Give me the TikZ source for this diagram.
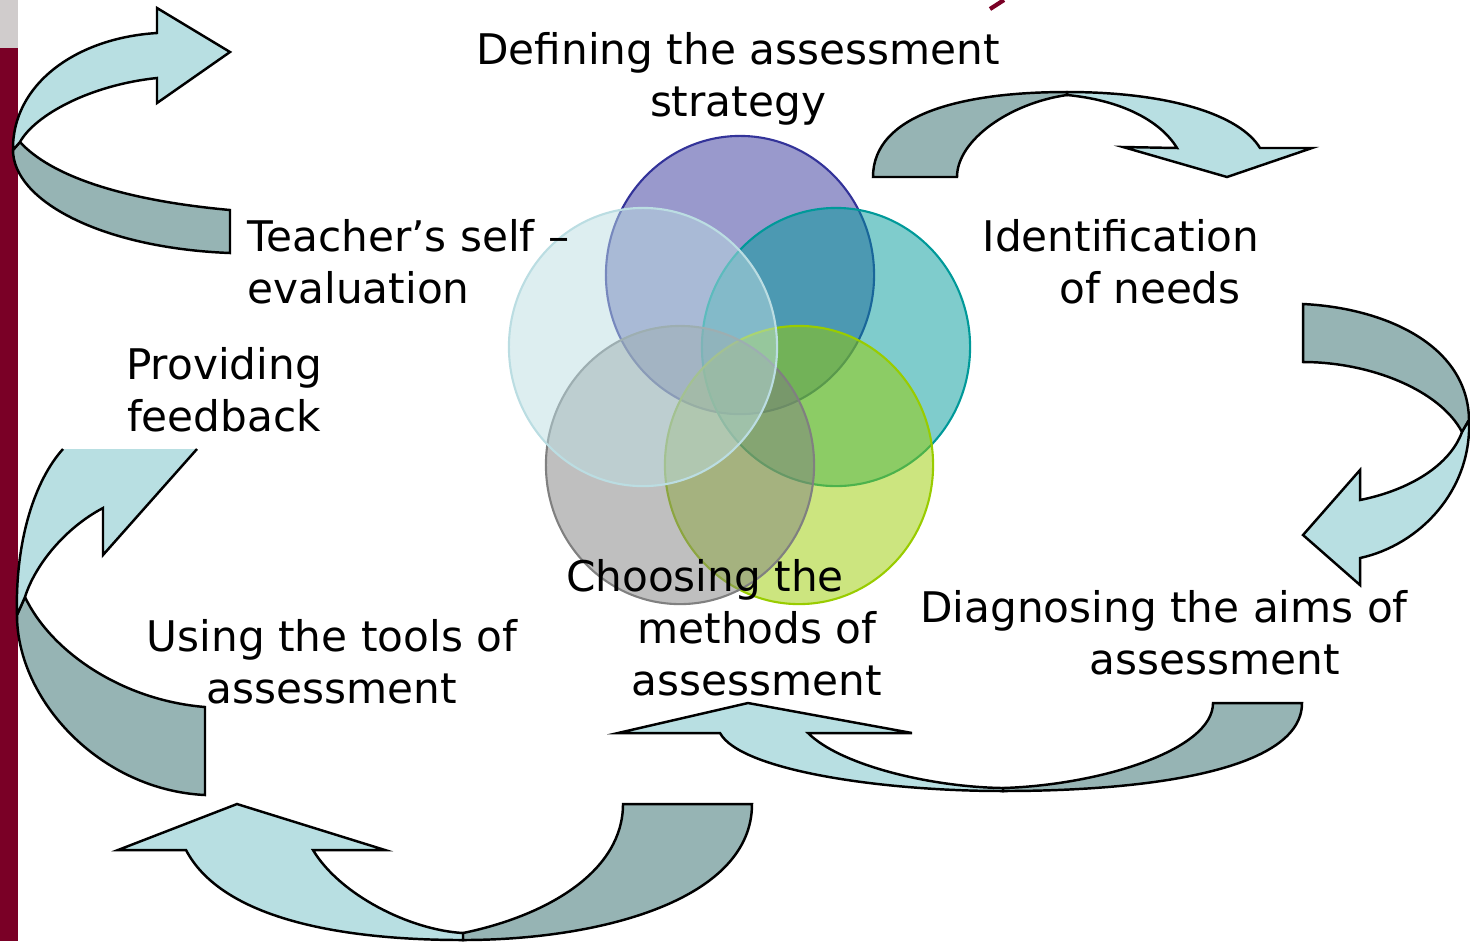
\documentclass[tikz,border=0pt]{standalone}
\usepackage{fontspec}
\setmainfont{DejaVu Sans}
\usetikzlibrary{shapes.geometric}

\definecolor{ribbonlight}{HTML}{B8DFE2}
\definecolor{ribbondark}{HTML}{96B4B4}
\definecolor{barred}{HTML}{7A0026}
\definecolor{bargray}{HTML}{D0CCCC}
\definecolor{circpurple}{HTML}{333399}
\definecolor{circteal}{HTML}{009999}
\definecolor{circgreen}{HTML}{99CC00}
\definecolor{circgray}{HTML}{808080}
\definecolor{circblue}{HTML}{BBDDE2}

\tikzset{
  front/.style={fill=ribbonlight, draw=black, line width=0.7pt},
  back/.style={fill=ribbondark, draw=black, line width=0.7pt},
  blob/.style={ellipse, minimum width=2.68cm, minimum height=2.78cm,
    inner sep=0pt, line width=0.6pt, fill opacity=0.5},
  steptext/.style={font=\fontsize{12}{14.8}\selectfont, inner sep=0pt,
    align=center, anchor=north}
}

\begin{document}
\begin{tikzpicture}[x=0.01cm, y=-0.01cm]
  \useasboundingbox (0,0) rectangle (1470,941);
  \fill[bargray] (0,0) rectangle (18,48);
  \fill[barred] (0,48) rectangle (18,941);
  \draw[barred, line width=1.2pt] (990,9) -- (1004,0);

  \begin{scope}[every node/.style=blob]
    \node[draw=circpurple, fill=circpurple] (purple) at (740,275) {};
    \node[draw=circteal, fill=circteal] (teal) at (836,347) {};
    \node[draw=circgreen, fill=circgreen] (green) at (799,465) {};
    \node[draw=circgray, fill=circgray] (gray) at (680,465) {};
    \node[draw=circblue, fill=circblue] (blue) at (643,347) {};
  \end{scope}

  % top left
  \path[back] (230,210) -- (230,253) .. controls (100,248) and (13,200) .. (13,150)
    -- (20,142) .. controls (50,175) and (120,200) .. (230,210) -- cycle;
  \path[front] (13,150) .. controls (12,85) and (75,38) .. (157,33) -- (157,8)
    -- (230,52) -- (157,103) -- (157,78) .. controls (90,85) and (35,115) .. (20,142) -- cycle;
  % top right
  \path[back] (873,177) -- (957,177) .. controls (957,140) and (1010,103) .. (1067,95)
    -- (1067,92) .. controls (960,92) and (873,115) .. (873,177) -- cycle;
  \path[front] (1067,92) .. controls (1170,92) and (1240,115) .. (1260,148) -- (1312,148)
    -- (1227,177) -- (1123,147) -- (1177,148) .. controls (1160,120) and (1120,100) .. (1067,95) -- cycle;
  % right
  \path[back] (1303,304) .. controls (1385,308) and (1468,345) .. (1469,420)
    -- (1462,432) .. controls (1440,390) and (1370,362) .. (1303,362) -- cycle;
  \path[front] (1469,420) .. controls (1472,490) and (1420,545) .. (1360,558) -- (1360,585)
    -- (1303,535) -- (1360,470) -- (1360,500) .. controls (1410,490) and (1450,465) .. (1462,432) -- cycle;
  % bottom right
  \path[back] (1213,703) -- (1302,703) .. controls (1302,770) and (1150,791) .. (1003,791)
    -- (1003,788) .. controls (1100,785) and (1213,750) .. (1213,703) -- cycle;
  \path[front] (1003,791) .. controls (880,791) and (740,770) .. (720,733) -- (618,733)
    -- (748,703) -- (912,733) -- (808,733) .. controls (840,765) and (930,787) .. (1003,788) -- cycle;
  % bottom left
  \path[back] (623,804) -- (752,804) .. controls (752,900) and (600,940) .. (463,940)
    -- (463,933) .. controls (550,915) and (623,870) .. (623,804) -- cycle;
  \path[front] (463,940) .. controls (330,940) and (220,915) .. (186,850) -- (118,850)
    -- (237,804) -- (385,850) -- (313,850) .. controls (340,895) and (410,930) .. (463,933) -- cycle;
  % left
  \path[back] (17,615) .. controls (17,700) and (100,790) .. (205,795) -- (205,707)
    .. controls (120,700) and (50,650) .. (25,597) -- cycle;
  \fill[ribbonlight] (63,449) -- (197,449) -- (103,555) -- (103,508)
    .. controls (65,528) and (35,565) .. (25,597) -- (17,615) .. controls (15,540) and (35,480) .. (63,449) -- cycle;
  \draw[line width=0.7pt] (197,449) -- (103,555) -- (103,508)
    .. controls (65,528) and (35,565) .. (25,597) -- (17,615) .. controls (15,540) and (35,480) .. (63,449);

  \node[steptext] (strategy) at (738,32) {Defining the assessment\\strategy};
  \node[steptext, align=left, anchor=north west] (selfeval) at (247,219) {Teacher’s self –\\evaluation};
  \node[steptext] (needs) at (1121,219) {Identification\\\hspace*{16.5pt}of needs};
  \node[steptext] (feedback) at (224,347) {Providing\\feedback};
  \node[steptext] (tools) at (332,619) {Using the tools of\\assessment};
  \node[steptext] (methods) at (757,559) {Choosing the\hspace*{29.6pt}\\methods of\\assessment};
  \node[steptext] (aims) at (1164,590) {Diagnosing the aims of\\\hspace*{29pt}assessment};
\end{tikzpicture}
\end{document}
